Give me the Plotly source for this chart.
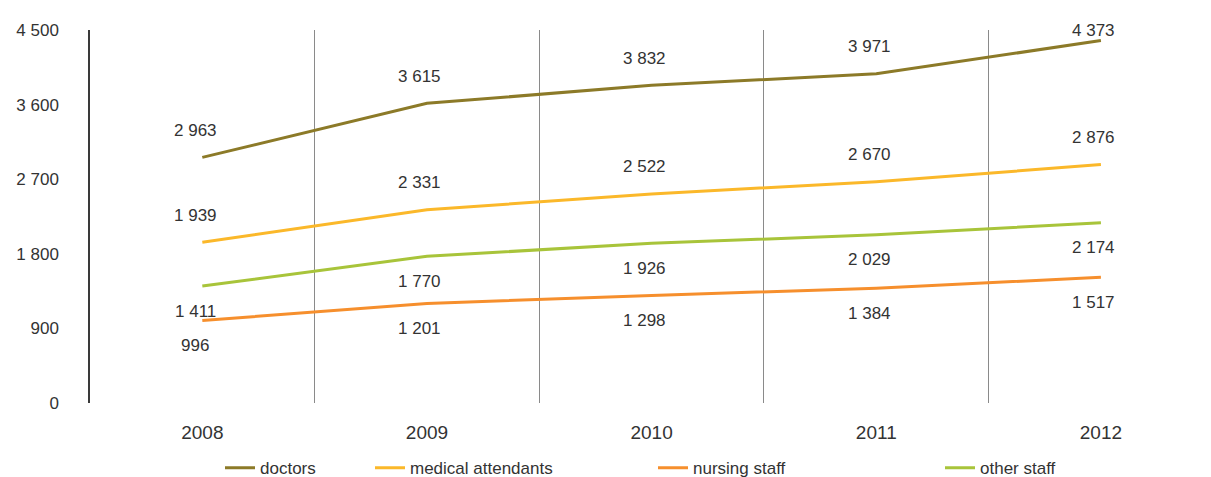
import plotly.graph_objects as go

# Staff headcount by year
years = ["2008", "2009", "2010", "2011", "2012"]
doctors = [2963, 3615, 3832, 3971, 4373]
medical_attendants = [1939, 2331, 2522, 2670, 2876]
nursing_staff = [996, 1201, 1298, 1384, 1517]
other_staff = [1411, 1770, 1926, 2029, 2174]

y_ticks = [0, 900, 1800, 2700, 3600, 4500]

Y_MAX = 4500
PLOT_H = 373  # pixel height of plotting area
FONT = "Liberation Sans, Arial, sans-serif"
TEXT_COLOR = "#333333"


def fmt(v):
    return f"{v:,}".replace(",", " ")


# name, values, colour, label placement, legend slot, legend left (px)
series = [
    ("doctors", doctors, "#8c7a28", "above", "legend", 220),
    ("medical attendants", medical_attendants, "#fbb82a", "above", "legend2", 370),
    ("nursing staff", nursing_staff, "#f68f2d", "below", "legend3", 653),
    ("other staff", other_staff, "#a8c43a", "below", "legend4", 940),
]

fig = go.Figure()
annotations = []
legend_layouts = {}
for name, vals, color, side, leg, lx in series:
    fig.add_trace(go.Scatter(
        x=years, y=vals, mode="lines", name=name,
        line=dict(color=color, width=3),
        legend=leg, hoverinfo="skip",
    ))
    for i, v in enumerate(vals):
        if side == "above":
            room = (Y_MAX - v) / Y_MAX * PLOT_H
            shift = min(27, room)
        else:
            shift = -25
        annotations.append(dict(
            x=i, y=v, xref="x", yref="y", text=fmt(v), showarrow=False,
            yshift=shift, xshift=-7,
            font=dict(family=FONT, size=17, color=TEXT_COLOR),
        ))
    legend_layouts[leg] = dict(
        x=(lx - 90) / 1121, y=-0.175, xanchor="left", yanchor="middle",
        orientation="h", bgcolor="rgba(0,0,0,0)", borderwidth=0,
        font=dict(family=FONT, size=17, color=TEXT_COLOR),
        itemclick=False, itemdoubleclick=False,
    )

fig.update_layout(
    width=1211, height=477,
    margin=dict(l=90, r=0, t=30, b=74, autoexpand=False),
    paper_bgcolor="white", plot_bgcolor="white",
    showlegend=True,
    annotations=annotations,
    font=dict(family=FONT, color=TEXT_COLOR),
    **legend_layouts,
)

fig.update_xaxes(
    type="category", range=[-0.5, 4.49],
    tickson="boundaries", showgrid=True, gridcolor="#8a8a8a", gridwidth=1,
    ticks="", showline=False, zeroline=False,
    tickfont=dict(family=FONT, size=19, color=TEXT_COLOR),
    ticklabelstandoff=16,
)
fig.update_yaxes(
    range=[0, Y_MAX], tickvals=y_ticks, ticktext=[fmt(t) for t in y_ticks],
    showgrid=False, zeroline=False,
    showline=True, linecolor="#3a3a3a", linewidth=1.5,
    ticks="", ticklabelstandoff=26,
    tickfont=dict(family=FONT, size=17, color=TEXT_COLOR),
)

fig.write_html("out.html")
